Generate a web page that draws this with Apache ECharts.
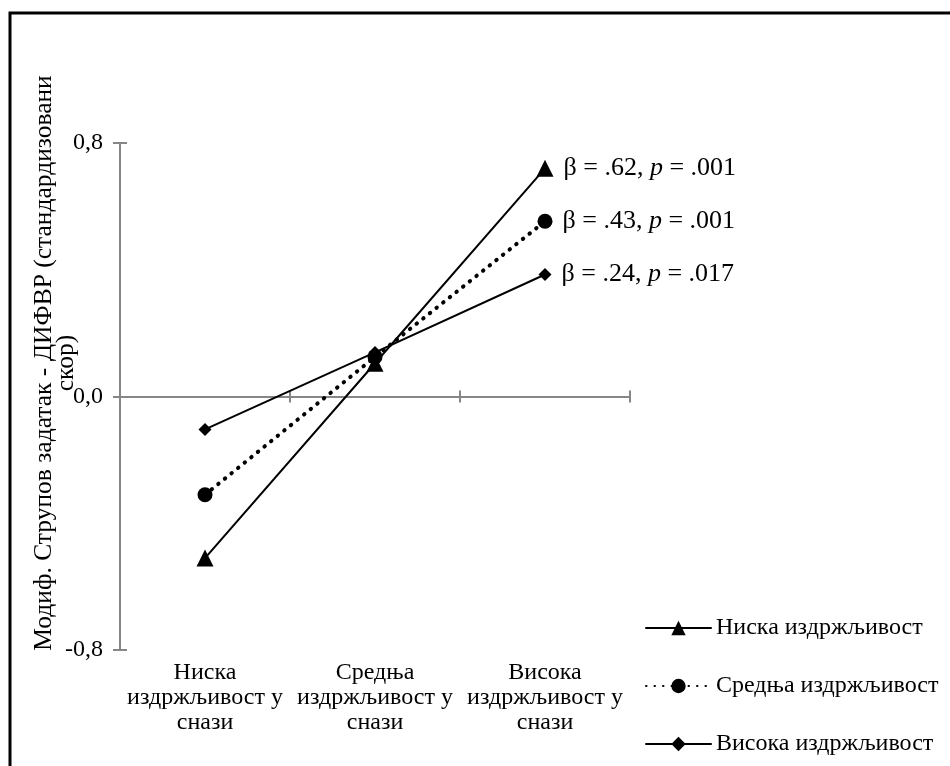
<!DOCTYPE html>
<html><head><meta charset="utf-8">
<script src="https://cdn.jsdelivr.net/npm/echarts@6/dist/echarts.min.js"></script>
<style>html,body{margin:0;padding:0;background:#fff}#c{width:950px;height:766px}</style>
</head><body><div id="c"></div>
<script>
// ---- data ----
const categories = ['Ниска\nиздржљивост у\nснази', 'Средња\nиздржљивост у\nснази', 'Висока\nиздржљивост у\nснази'];
const seriesNames = ['Ниска издржљивост', 'Средња издржљивост', 'Висока издржљивост'];
const lowHardiness = [-0.51, 0.105, 0.72];
const midHardiness = [-0.31, 0.125, 0.553];
const highHardiness = [-0.104, 0.139, 0.385];
const betas = ['.62', '.43', '.24'];
const pValues = ['.001', '.001', '.017'];
const yMin = -0.8, yMax = 0.8, yStep = 0.8;
const yAxisTitle = 'Модиф. Струпов задатак - ДИФВР (стандардизовани\nскор)';

// ---- styling ----
const FONT = '"Liberation Serif", "Times New Roman", serif';
const GRAY = '#868686';
const chart = echarts.init(document.getElementById('c'), null, {renderer: 'canvas'});

const axisLineStyle = {color: GRAY, width: 2};
function lineAxis(inside) {
  return {
    type: 'category', data: categories, position: 'bottom',
    axisLine: {show: true, onZero: true, lineStyle: axisLineStyle},
    axisTick: {show: true, inside: inside, length: 6, lineStyle: axisLineStyle},
    axisLabel: {show: false}, splitLine: {show: false}
  };
}
function valAxis(inside, labels) {
  return {
    type: 'value', position: 'left', min: yMin, max: yMax, interval: yStep,
    axisLine: {show: true, onZero: false, lineStyle: axisLineStyle},
    axisTick: {show: true, inside: inside, length: 7, lineStyle: axisLineStyle},
    splitLine: {show: false},
    axisLabel: labels ? {
      show: true, margin: 17, color: '#000', fontFamily: FONT, fontSize: 24,
      formatter: v => v.toFixed(1).replace('.', ',')
    } : {show: false}
  };
}
function makeLabel(i) {
  return {
    show: true, position: 'right', distance: 10,
    formatter: p => p.dataIndex === 2 ? `{n|β = ${betas[i]}, }{i|p}{n| = ${pValues[i]}}` : '',
    rich: {
      n: {fontFamily: FONT, fontSize: 26, color: '#000'},
      i: {fontFamily: FONT, fontSize: 26, color: '#000', fontStyle: 'italic'}
    }
  };
}
const seriesData = [lowHardiness, midHardiness, highHardiness];
const symbols = ['triangle', 'circle', 'diamond'];
const symbolSizes = [17, 15, 13];
const lineTypes = ['solid', [0.5, 8], 'solid'];
const lineWidths = [2, 4, 2];

const option = {
  animation: false,
  backgroundColor: '#fff',
  grid: {left: 120, right: 320, top: 143, bottom: 116, containLabel: false, outerBoundsMode: 'none'},
  xAxis: [
    {
      type: 'category', data: categories, position: 'bottom',
      axisLine: {show: false, onZero: false}, axisTick: {show: false}, splitLine: {show: false},
      axisLabel: {show: true, interval: 0, margin: 10, color: '#000', fontFamily: FONT, fontSize: 24, lineHeight: 25}
    },
    lineAxis(false),
    lineAxis(true)
  ],
  yAxis: [valAxis(false, true), valAxis(true, false)],
  legend: {
    orient: 'vertical', left: 640, top: 611,
    itemWidth: 65, itemHeight: 18, itemGap: 34,
    data: seriesNames,
    textStyle: {fontFamily: FONT, fontSize: 24, lineHeight: 24, color: '#000'}
  },
  graphic: [
    {type: 'rect', silent: true, z: -10, shape: {x: 10, y: 13, width: 1000, height: 800},
     style: {fill: 'none', stroke: '#000', lineWidth: 3}},
    {type: 'text', silent: true, x: 55, y: 363, rotation: Math.PI / 2,
     style: {text: yAxisTitle, font: '25.5px ' + FONT, fill: '#000', align: 'center', verticalAlign: 'middle', lineHeight: 22}}
  ],
  series: seriesNames.map((name, i) => ({
    name: name, type: 'line', xAxisIndex: 0, yAxisIndex: 0,
    data: seriesData[i],
    symbol: symbols[i], symbolSize: symbolSizes[i], showSymbol: true,
    itemStyle: {color: '#000'},
    lineStyle: {color: '#000', width: lineWidths[i], type: lineTypes[i], cap: 'round'},
    label: makeLabel(i),
    emphasis: {disabled: true},
    z: 3 - i
  }))
};
chart.setOption(option);
</script>
</body></html>
